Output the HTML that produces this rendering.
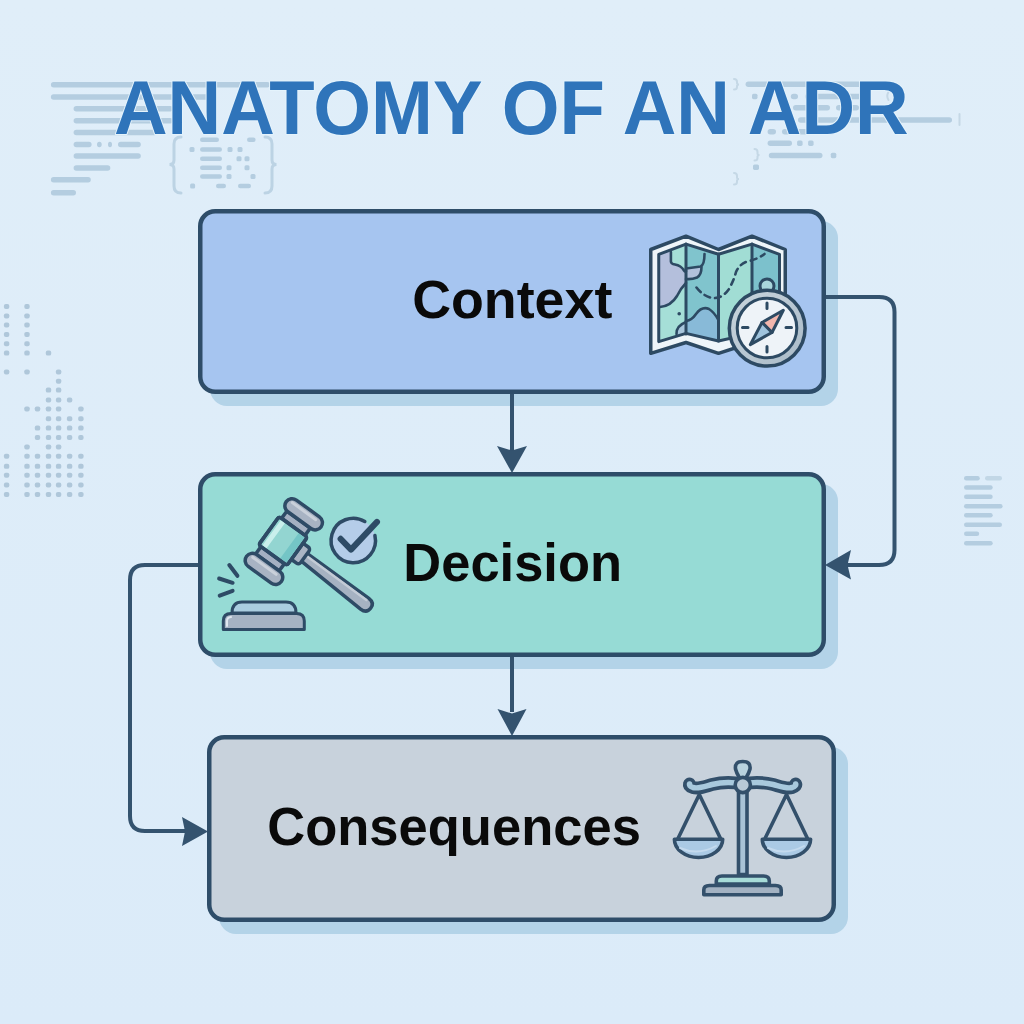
<!DOCTYPE html>
<html><head><meta charset="utf-8">
<style>
html,body{margin:0;padding:0;width:1024px;height:1024px;overflow:hidden;background:#ddecf8;}
svg{position:absolute;left:0;top:0;display:block;}
</style></head>
<body>
<svg width="1024" height="1024" viewBox="0 0 1024 1024">
<defs>
<linearGradient id="bg" x1="0" y1="0" x2="0" y2="1">
<stop offset="0" stop-color="#e0eef9"/><stop offset="1" stop-color="#dbebf9"/>
</linearGradient>
<linearGradient id="ring" x1="0" y1="0" x2="1" y2="1"><stop offset="0" stop-color="#c9d5de"/><stop offset="1" stop-color="#a9bac7"/></linearGradient>
</defs>
<rect x="0" y="0" width="1024" height="1024" fill="url(#bg)"/>

<!-- DECO -->
<g id="deco" fill="#b4cde0">
<rect x="50.9" y="82.0" width="219.1" height="5.5" rx="2.75"/>
<rect x="50.9" y="94.2" width="164.1" height="5.5" rx="2.75"/>
<rect x="73.6" y="106.0" width="99.4" height="5.5" rx="2.75"/>
<rect x="73.6" y="118.0" width="99.4" height="5.5" rx="2.75"/>
<rect x="73.6" y="129.8" width="83.4" height="5.5" rx="2.75"/>
<rect x="73.6" y="141.8" width="18.0" height="5.5" rx="2.75"/>
<rect x="97.0" y="141.8" width="4.7" height="5.5" rx="2.75"/>
<rect x="108.0" y="141.8" width="4.0" height="5.5" rx="2.75"/>
<rect x="118.0" y="141.8" width="22.8" height="5.5" rx="2.75"/>
<rect x="73.6" y="153.2" width="67.2" height="5.5" rx="2.75"/>
<rect x="73.6" y="165.2" width="36.7" height="5.5" rx="2.75"/>
<rect x="50.9" y="177.1" width="39.9" height="5.5" rx="2.75"/>
<rect x="50.9" y="189.9" width="25.1" height="5.5" rx="2.75"/>
<rect x="200.0" y="137.4" width="19.0" height="4.5" rx="2.25"/>
<rect x="247.0" y="137.4" width="8.6" height="4.5" rx="2.25"/>
<rect x="189.5" y="146.9" width="5" height="5" rx="1.5"/>
<rect x="200.0" y="147.2" width="22.0" height="4.5" rx="2.25"/>
<rect x="227.5" y="146.9" width="5" height="5" rx="1.5"/>
<rect x="237.5" y="146.9" width="5" height="5" rx="1.5"/>
<rect x="200.0" y="156.4" width="22.0" height="4.5" rx="2.25"/>
<rect x="236.5" y="156.2" width="5" height="5" rx="1.5"/>
<rect x="244.5" y="156.2" width="5" height="5" rx="1.5"/>
<rect x="200.0" y="165.6" width="22.0" height="4.5" rx="2.25"/>
<rect x="226.5" y="165.3" width="5" height="5" rx="1.5"/>
<rect x="244.5" y="165.3" width="5" height="5" rx="1.5"/>
<rect x="200.0" y="174.3" width="22.0" height="4.5" rx="2.25"/>
<rect x="226.5" y="174.1" width="5" height="5" rx="1.5"/>
<rect x="250.5" y="174.1" width="5" height="5" rx="1.5"/>
<rect x="190.1" y="183.6" width="5" height="5" rx="1.5"/>
<rect x="216.0" y="183.8" width="10.0" height="4.5" rx="2.25"/>
<rect x="238.0" y="183.8" width="13.0" height="4.5" rx="2.25"/>
<rect x="745.6" y="81.5" width="120.9" height="5.5" rx="2.75"/>
<rect x="752.0" y="93.7" width="5.5" height="5.5" rx="1.6"/>
<rect x="790.8" y="93.7" width="7.2" height="5.5" rx="2.75"/>
<rect x="805.0" y="93.7" width="61.0" height="5.5" rx="2.75"/>
<rect x="793.0" y="105.0" width="37.0" height="5.5" rx="2.75"/>
<rect x="836.0" y="105.0" width="23.0" height="5.5" rx="2.75"/>
<rect x="798.0" y="117.2" width="154.0" height="5.5" rx="2.75"/>
<rect x="767.6" y="129.1" width="8.4" height="5.5" rx="2.75"/>
<rect x="782.0" y="129.1" width="52.7" height="5.5" rx="2.75"/>
<rect x="767.6" y="140.4" width="24.4" height="5.5" rx="2.75"/>
<rect x="797.1" y="140.4" width="5.5" height="5.5" rx="1.6"/>
<rect x="808.1" y="140.4" width="5.5" height="5.5" rx="1.6"/>
<rect x="768.8" y="152.7" width="53.7" height="5.5" rx="2.75"/>
<rect x="830.8" y="152.7" width="5.5" height="5.5" rx="1.6"/>
<rect x="753.0" y="164.4" width="6.0" height="5.5" rx="1.6"/>
<rect x="964.0" y="475.9" width="15.8" height="4.5" rx="2.25"/>
<rect x="985.0" y="475.9" width="17.0" height="4.5" rx="2.25" fill="#c2d7e6"/>
<rect x="964.0" y="485.2" width="28.7" height="4.5" rx="2.25"/>
<rect x="964.0" y="494.6" width="28.7" height="4.5" rx="2.25"/>
<rect x="964.0" y="503.9" width="38.6" height="4.5" rx="2.25"/>
<rect x="964.0" y="513.0" width="28.7" height="4.5" rx="2.25"/>
<rect x="964.0" y="522.4" width="38.0" height="4.5" rx="2.25"/>
<rect x="964.0" y="531.5" width="15.2" height="4.5" rx="2.25"/>
<rect x="964.0" y="541.0" width="28.7" height="4.5" rx="2.25"/>
<rect x="3.9" y="304.0" width="5.4" height="5" rx="1.9" fill="#afc7da"/>
<rect x="24.3" y="304.0" width="5.4" height="5" rx="1.9" fill="#afc7da"/>
<rect x="3.9" y="313.4" width="5.4" height="5" rx="1.9" fill="#afc7da"/>
<rect x="24.3" y="313.4" width="5.4" height="5" rx="1.9" fill="#afc7da"/>
<rect x="3.9" y="322.5" width="5.4" height="5" rx="1.9" fill="#afc7da"/>
<rect x="24.3" y="322.5" width="5.4" height="5" rx="1.9" fill="#afc7da"/>
<rect x="3.9" y="331.9" width="5.4" height="5" rx="1.9" fill="#afc7da"/>
<rect x="24.3" y="331.9" width="5.4" height="5" rx="1.9" fill="#afc7da"/>
<rect x="3.9" y="341.2" width="5.4" height="5" rx="1.9" fill="#afc7da"/>
<rect x="24.3" y="341.2" width="5.4" height="5" rx="1.9" fill="#afc7da"/>
<rect x="3.9" y="350.6" width="5.4" height="5" rx="1.9" fill="#afc7da"/>
<rect x="24.3" y="350.6" width="5.4" height="5" rx="1.9" fill="#afc7da"/>
<rect x="45.8" y="350.6" width="5.4" height="5" rx="1.9" fill="#afc7da"/>
<rect x="3.9" y="369.4" width="5.4" height="5" rx="1.9" fill="#afc7da"/>
<rect x="24.3" y="369.4" width="5.4" height="5" rx="1.9" fill="#afc7da"/>
<rect x="55.9" y="369.4" width="5.4" height="5" rx="1.9" fill="#afc7da"/>
<rect x="55.9" y="378.7" width="5.4" height="5" rx="1.9" fill="#afc7da"/>
<rect x="45.8" y="387.6" width="5.4" height="5" rx="1.9" fill="#afc7da"/>
<rect x="55.9" y="387.6" width="5.4" height="5" rx="1.9" fill="#afc7da"/>
<rect x="45.8" y="397.5" width="5.4" height="5" rx="1.9" fill="#afc7da"/>
<rect x="55.9" y="397.5" width="5.4" height="5" rx="1.9" fill="#afc7da"/>
<rect x="66.9" y="397.5" width="5.4" height="5" rx="1.9" fill="#afc7da"/>
<rect x="24.3" y="406.4" width="5.4" height="5" rx="1.9" fill="#afc7da"/>
<rect x="34.8" y="406.4" width="5.4" height="5" rx="1.9" fill="#afc7da"/>
<rect x="45.8" y="406.4" width="5.4" height="5" rx="1.9" fill="#afc7da"/>
<rect x="55.9" y="406.4" width="5.4" height="5" rx="1.9" fill="#afc7da"/>
<rect x="78.2" y="406.4" width="5.4" height="5" rx="1.9" fill="#afc7da"/>
<rect x="45.8" y="416.2" width="5.4" height="5" rx="1.9" fill="#afc7da"/>
<rect x="55.9" y="416.2" width="5.4" height="5" rx="1.9" fill="#afc7da"/>
<rect x="66.9" y="416.2" width="5.4" height="5" rx="1.9" fill="#afc7da"/>
<rect x="78.2" y="416.2" width="5.4" height="5" rx="1.9" fill="#afc7da"/>
<rect x="34.8" y="425.6" width="5.4" height="5" rx="1.9" fill="#afc7da"/>
<rect x="45.8" y="425.6" width="5.4" height="5" rx="1.9" fill="#afc7da"/>
<rect x="55.9" y="425.6" width="5.4" height="5" rx="1.9" fill="#afc7da"/>
<rect x="66.9" y="425.6" width="5.4" height="5" rx="1.9" fill="#afc7da"/>
<rect x="78.2" y="425.6" width="5.4" height="5" rx="1.9" fill="#afc7da"/>
<rect x="34.8" y="435.0" width="5.4" height="5" rx="1.9" fill="#afc7da"/>
<rect x="45.8" y="435.0" width="5.4" height="5" rx="1.9" fill="#afc7da"/>
<rect x="55.9" y="435.0" width="5.4" height="5" rx="1.9" fill="#afc7da"/>
<rect x="66.9" y="435.0" width="5.4" height="5" rx="1.9" fill="#afc7da"/>
<rect x="78.2" y="435.0" width="5.4" height="5" rx="1.9" fill="#afc7da"/>
<rect x="24.3" y="444.4" width="5.4" height="5" rx="1.9" fill="#afc7da"/>
<rect x="45.8" y="444.4" width="5.4" height="5" rx="1.9" fill="#afc7da"/>
<rect x="55.9" y="444.4" width="5.4" height="5" rx="1.9" fill="#afc7da"/>
<rect x="3.9" y="453.7" width="5.4" height="5" rx="1.9" fill="#afc7da"/>
<rect x="24.3" y="453.7" width="5.4" height="5" rx="1.9" fill="#afc7da"/>
<rect x="34.8" y="453.7" width="5.4" height="5" rx="1.9" fill="#afc7da"/>
<rect x="45.8" y="453.7" width="5.4" height="5" rx="1.9" fill="#afc7da"/>
<rect x="55.9" y="453.7" width="5.4" height="5" rx="1.9" fill="#afc7da"/>
<rect x="66.9" y="453.7" width="5.4" height="5" rx="1.9" fill="#afc7da"/>
<rect x="78.2" y="453.7" width="5.4" height="5" rx="1.9" fill="#afc7da"/>
<rect x="3.9" y="463.8" width="5.4" height="5" rx="1.9" fill="#afc7da"/>
<rect x="24.3" y="463.8" width="5.4" height="5" rx="1.9" fill="#afc7da"/>
<rect x="34.8" y="463.8" width="5.4" height="5" rx="1.9" fill="#afc7da"/>
<rect x="45.8" y="463.8" width="5.4" height="5" rx="1.9" fill="#afc7da"/>
<rect x="55.9" y="463.8" width="5.4" height="5" rx="1.9" fill="#afc7da"/>
<rect x="66.9" y="463.8" width="5.4" height="5" rx="1.9" fill="#afc7da"/>
<rect x="78.2" y="463.8" width="5.4" height="5" rx="1.9" fill="#afc7da"/>
<rect x="3.9" y="472.7" width="5.4" height="5" rx="1.9" fill="#afc7da"/>
<rect x="24.3" y="472.7" width="5.4" height="5" rx="1.9" fill="#afc7da"/>
<rect x="34.8" y="472.7" width="5.4" height="5" rx="1.9" fill="#afc7da"/>
<rect x="45.8" y="472.7" width="5.4" height="5" rx="1.9" fill="#afc7da"/>
<rect x="55.9" y="472.7" width="5.4" height="5" rx="1.9" fill="#afc7da"/>
<rect x="66.9" y="472.7" width="5.4" height="5" rx="1.9" fill="#afc7da"/>
<rect x="78.2" y="472.7" width="5.4" height="5" rx="1.9" fill="#afc7da"/>
<rect x="3.9" y="482.5" width="5.4" height="5" rx="1.9" fill="#afc7da"/>
<rect x="24.3" y="482.5" width="5.4" height="5" rx="1.9" fill="#afc7da"/>
<rect x="34.8" y="482.5" width="5.4" height="5" rx="1.9" fill="#afc7da"/>
<rect x="45.8" y="482.5" width="5.4" height="5" rx="1.9" fill="#afc7da"/>
<rect x="55.9" y="482.5" width="5.4" height="5" rx="1.9" fill="#afc7da"/>
<rect x="66.9" y="482.5" width="5.4" height="5" rx="1.9" fill="#afc7da"/>
<rect x="78.2" y="482.5" width="5.4" height="5" rx="1.9" fill="#afc7da"/>
<rect x="3.9" y="491.9" width="5.4" height="5" rx="1.9" fill="#afc7da"/>
<rect x="24.3" y="491.9" width="5.4" height="5" rx="1.9" fill="#afc7da"/>
<rect x="34.8" y="491.9" width="5.4" height="5" rx="1.9" fill="#afc7da"/>
<rect x="45.8" y="491.9" width="5.4" height="5" rx="1.9" fill="#afc7da"/>
<rect x="55.9" y="491.9" width="5.4" height="5" rx="1.9" fill="#afc7da"/>
<rect x="66.9" y="491.9" width="5.4" height="5" rx="1.9" fill="#afc7da"/>
<rect x="78.2" y="491.9" width="5.4" height="5" rx="1.9" fill="#afc7da"/>
</g>
<g fill="none" stroke="#bcd3e4" stroke-width="3" stroke-linecap="round">
<path d="M181 137 Q174 137 174 144 V160 Q174 164.5 169.5 164.5 Q174 164.5 174 169 V186 Q174 193 181 193"/>
<path d="M265 137 Q272 137 272 144 V160 Q272 164.5 276.5 164.5 Q272 164.5 272 169 V186 Q272 193 265 193"/>
</g>
<g fill="none" stroke="#c5d8e6" stroke-width="2" stroke-linecap="round">
<path d="M734 79 Q737 79 737 82 V83 Q737 84.5 739 84.5 Q737 84.5 737 86 V87 Q737 89.5 734 89.5"/>
<path d="M754.5 149 Q757.5 149 757.5 152 V153.5 Q757.5 155 759.5 155 Q757.5 155 757.5 156.5 V158 Q757.5 160.5 754.5 160.5"/>
<path d="M734 173 Q737 173 737 176 V177.5 Q737 179 739 179 Q737 179 737 180.5 V182 Q737 184.5 734 184.5"/>
<path d="M888.5 92 Q886 96 888.5 100"/>
<path d="M959.5 114 V125"/>
</g>

<!-- TITLE -->
<text transform="translate(114,133.7) scale(0.977,1)" font-family="Liberation Sans" font-weight="bold" font-size="76" fill="#2f74ba" stroke="#e4f3fc" stroke-width="2" paint-order="stroke" stroke-linejoin="round">ANATOMY OF AN ADR</text>

<!-- SHADOWS -->
<g fill="#b3d3e8">
<rect x="210" y="221" width="628" height="185" rx="17"/>
<rect x="210" y="484" width="628" height="185" rx="17"/>
<rect x="219" y="747" width="629" height="187" rx="17"/>
</g>

<!-- BOXES -->
<g stroke="#2e4d69" stroke-width="4.5">
<rect x="200.25" y="211.25" width="623.5" height="180.5" rx="15" fill="#a6c5f0"/>
<rect x="200.25" y="474.25" width="623.5" height="180.5" rx="15" fill="#96dbd5"/>
<rect x="209.25" y="737.25" width="624.5" height="182.5" rx="15" fill="#c8d2dc"/>
</g>

<!-- CONNECTORS -->
<g stroke="#34536f" stroke-width="4" fill="none">
<path d="M512 394 V452"/>
<path d="M512 657 V712"/>
<path d="M826 297 H879 Q894.5 297 894.5 312 V550 Q894.5 565 879 565 H842"/>
<path d="M198 565 H145 Q130 565 130 580 V816 Q130 831 145 831 H192"/>
</g>
<g fill="#34536f">
<path d="M497 446 L512 450.5 L527 446 L512 473 Z"/>
<path d="M497.5 709 L512 713.5 L526.5 709 L512 736 Z"/>
<path d="M851 550 L847.5 565 L851 579.5 L825 565 Z"/>
<path d="M182 817 L185 831.5 L182 846 L208 831.5 Z"/>
</g>


<!-- MAP ICON -->
<g id="map" stroke-linejoin="round" stroke-linecap="round">
<clipPath id="mapclip"><path d="M658.75 254.3 L686 244.1 L718.5 254.3 L752 244.1 L779.5 254.3 V341 L752 333.4 L718.5 341 L686 333.4 L658.75 341.6 Z"/></clipPath>
<path d="M650.75 249.5 L686 236.2 L718.5 249.5 L752 236.2 L785.25 249.5 V353.3 L752 342.5 L718.5 353.3 L686 342.5 L650.75 353.3 Z" fill="#eef5f9" stroke="#2d4a63" stroke-width="3.5"/>
<g clip-path="url(#mapclip)">
<rect x="655" y="240" width="32" height="110" fill="#a5dfd7"/>
<rect x="686" y="240" width="33" height="110" fill="#80c4cd"/>
<rect x="718.5" y="240" width="34" height="110" fill="#a1ddd4"/>
<rect x="752" y="240" width="30" height="110" fill="#7cc1cc"/>
<path d="M655 250 L671 250 V262 Q671 264 675 264.5 Q681 265.5 684 271 L686 272 V282 Q680 290 677 296 Q671 306 660 307 L655 307 Z" fill="#b4bfdc"/>
<path d="M686 268 Q697 266.5 701 266 Q705 264 704.5 252 L686 250 Z" fill="#80c4cd"/>
<path d="M686 268 Q697 266.5 701.5 266.5 Q703 276 697 277.5 Q692 279.5 686 279 Z" fill="#b2c1dc"/>
<path d="M686 321 Q692 320 696 314 Q702 306 709 309 Q714 312 718.5 320 V350 H686 Z" fill="#88bad8"/>
<path d="M676 334 Q676 326 686 322 V340 L676 340 Z" fill="#a8c6dc"/>
</g>
<g fill="none" stroke="#2d4a63" stroke-width="2.6">
<path d="M670.9 252 V261.5 Q671 264 675 264.5 Q681 265.5 684 270.5 Q685 272 686 271"/>
<path d="M686 268.5 Q697 267 700.5 266.5 Q704.5 265 704.5 254"/>
<path d="M686 279 Q692 279.5 697 277.5 Q701.5 275 701.5 267"/>
<path d="M660 307 Q671 306 677 296 Q681 288 686 283"/>
<path d="M686 321 Q692 320 696 314 Q702 306 709 309 Q714 312 718.5 320"/>
<path d="M676.5 334 Q676 326 686 322"/>
<path d="M696.5 287.5 Q703 296 712 298 Q722 299 729 289 Q734 280 736 272 Q740 263 749 261 Q758 259 764.5 254" stroke-dasharray="6 5"/>
</g>
<circle cx="679.2" cy="313.7" r="1.8" fill="#2d4a63"/>
<path d="M658.75 254.3 L686 244.1 L718.5 254.3 L752 244.1 L779.5 254.3 V341 L752 333.4 L718.5 341 L686 333.4 L658.75 341.6 Z" fill="none" stroke="#2d4a63" stroke-width="3"/>
<path d="M686 244 V334 M718.5 254 V341 M752 244 V334" stroke="#2d4a63" stroke-width="3"/>
</g>
<!-- COMPASS -->
<g id="compass">
<circle cx="767" cy="286" r="7" fill="#a9d6dc" stroke="#2d4a63" stroke-width="3"/>
<circle cx="767.2" cy="328.2" r="37.9" fill="url(#ring)" stroke="#2d4a63" stroke-width="3.5"/>
<circle cx="767" cy="328" r="29.8" fill="#eef3f8" stroke="#2d4a63" stroke-width="3"/>
<g stroke="#2d4a63" stroke-width="3" stroke-linecap="round">
<path d="M767 303 V308.5 M767 346.5 V352 M742.5 327.5 H748 M786 327.5 H791.5"/>
</g>
<g stroke="#2d4a63" stroke-width="3" stroke-linejoin="round">
<path d="M783.3 310.3 L762 322.5 L772 332.5 Z" fill="#f2b6ad"/>
<path d="M750.3 344.6 L762 322.5 L772 332.5 Z" fill="#9fc3dd"/>
</g>
</g>

<!-- GAVEL -->
<g id="gavel" stroke="#2e4b66" stroke-width="3.5" stroke-linejoin="round" stroke-linecap="round">
<g transform="translate(283,541) rotate(36)">
<g transform="rotate(1.5)"><path d="M24 -4.8 L103 -6.8 Q110.5 -6.8 110.5 0 Q110.5 6.8 103 6.8 L24 4.8 Z" fill="#a6b2c2"/>
<path d="M27 -2.5 L102 -4" stroke="#c3cbd6" stroke-width="2.5" fill="none"/></g>
<rect x="16" y="-10" width="11" height="20" rx="3" fill="#a9b4c4"/>
<rect x="-14.5" y="-26.5" width="29" height="9.5" rx="2" fill="#a4b0c2"/>
<rect x="-14.5" y="17" width="29" height="9.5" rx="2" fill="#a4b0c2"/>
<rect x="-17.5" y="-17.5" width="35" height="35" rx="2.5" fill="#93d5d1"/>
<rect x="-14" y="-15.5" width="5" height="31" fill="#c9efec" stroke="none"/>
<rect x="8" y="-15.5" width="7.5" height="31" fill="#74c5c6" stroke="none"/>
<rect x="-17.5" y="-17.5" width="35" height="35" rx="2.5" fill="none"/>
<rect x="-20.5" y="-41" width="43" height="14.5" rx="7.25" fill="#a8b3c3"/>
<rect x="-20.5" y="26.5" width="43" height="14.5" rx="7.25" fill="#a8b3c3"/>
<path d="M-15 -36.5 H14" stroke="#c9d0da" stroke-width="3" fill="none"/>
<path d="M-15 31 H14" stroke="#c9d0da" stroke-width="3" fill="none"/>
</g>
<path d="M229.3 565 L237.4 575.8 M219.1 578.5 L232.6 582.8 M219.7 595.6 L232.6 590.8" stroke-width="4" fill="none"/>
<path d="M232 613 Q232 602 242 602 H286 Q296 602 296 613 Z" fill="#aacde0" stroke-width="3"/>
<path d="M223.3 629.5 V621 Q223.3 613.5 231 613.5 H296.5 Q304.3 613.5 304.3 621 V629.5 Z" fill="#a5b2c3" stroke-width="3"/>
<path d="M227 626 V621 Q227 617.5 231 617" stroke="#dfe7ef" stroke-width="2" fill="none"/>
</g>
<!-- CHECK -->
<g id="check" fill="none" stroke="#2e4b66" stroke-linecap="round" stroke-linejoin="round">
<circle cx="353.3" cy="540.5" r="22.2" fill="#b5cde9" stroke="none"/>
<path d="M364.8 521.5 A22.2 22.2 0 1 0 374.9 535.5" stroke-width="3.5"/>
<path d="M340.6 538.8 L351 549.6 L377 521.9" stroke-width="6"/>
</g>

<!-- SCALES -->
<g id="scales" stroke="#33506b" stroke-linejoin="round" stroke-linecap="round">
<path d="M742.7 761.5 Q734.5 761.5 735.5 769 Q736.5 773 739.5 778 H746 Q749 773 750 769 Q751 761.5 742.7 761.5 Z" fill="#b9d3df" stroke-width="3.6"/>
<path d="M742.6 784 C733 782 722 782 712 784.5 C703 787 698 789 693 787.5 Q689 786 689.5 784" fill="none" stroke-width="13"/>
<path d="M742.6 784 C752.2 782 763.2 782 773.2 784.5 C782.2 787 787.2 789 792.2 787.5 Q796.2 786 795.7 784" fill="none" stroke-width="13"/>
<path d="M742.6 784 C733 782 722 782 712 784.5 C703 787 698 789 693 787.5 Q689 786 689.5 784" fill="none" stroke="#a8c9dd" stroke-width="5.5"/>
<path d="M742.6 784 C752.2 782 763.2 782 773.2 784.5 C782.2 787 787.2 789 792.2 787.5 Q796.2 786 795.7 784" fill="none" stroke="#a8c9dd" stroke-width="5.5"/>
<rect x="738.5" y="790" width="8.5" height="84.5" fill="#a9c3d6" stroke-width="3.6"/>
<circle cx="742.8" cy="785" r="7.6" fill="#b8c9d6" stroke-width="3.6"/>
<path d="M678 838.5 L699.3 794.5 L720.5 838.5 M765 838.5 L786.5 794.5 L807.5 838.5" fill="none" stroke-width="3.6"/>
<path d="M674.4 839.2 H722.7 A24.15 18.3 0 0 1 674.4 839.2 Z" fill="#abcae5" stroke-width="3.6"/>
<path d="M762.3 839.2 H810.6 A24.15 18.3 0 0 1 762.3 839.2 Z" fill="#abcae5" stroke-width="3.6"/>
<path d="M680 848 Q698 856 716 846" stroke="#c4daee" stroke-width="2" fill="none"/>
<path d="M768 848 Q786 856 804 846" stroke="#c4daee" stroke-width="2" fill="none"/>
<path d="M716.3 884 V881 Q716.3 876 722 876 H763.5 Q769.3 876 769.3 881 V884 Z" fill="#a7dcd8" stroke-width="3.6"/>
<path d="M703.8 894.8 V890 Q703.8 885.5 709.5 885.5 H775.5 Q781.2 885.5 781.2 890 V894.8 Z" fill="#a3b2c2" stroke-width="3.6"/>
</g>

<!-- LABELS -->
<g font-family="Liberation Sans" font-weight="bold" font-size="54" fill="#0a0a0a">
<text transform="translate(412.2,318) scale(0.996,1)">Context</text>
<text transform="translate(403.3,581) scale(0.972,1)">Decision</text>
<text transform="translate(267.2,845) scale(0.973,1)">Consequences</text>
</g>

</svg>
</body></html>
